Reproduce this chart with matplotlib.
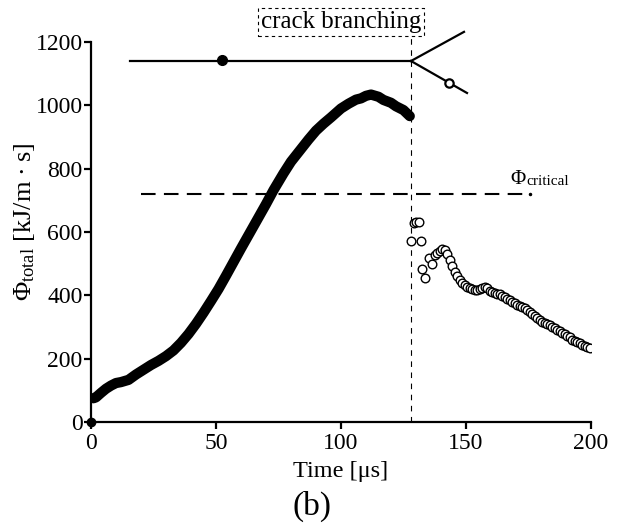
import matplotlib
matplotlib.use("Agg")
import matplotlib.pyplot as plt

plt.rcParams['font.family'] = ['Liberation Serif', 'DejaVu Serif']
plt.rcParams['mathtext.fontset'] = 'custom'
plt.rcParams['mathtext.rm'] = 'Liberation Serif'
plt.rcParams['mathtext.it'] = 'Liberation Serif:italic'

# filled symbols: before crack branching
t_before = [1, 2, 4, 6, 8, 10, 12, 15, 18, 21, 24, 27, 30, 33, 36, 39, 42, 45,
            48, 51, 54, 57, 60, 63, 66, 70, 73, 77, 80, 84, 87, 90, 93, 96,
            100, 103, 106, 108, 110, 112, 115, 117, 120, 122, 125, 127.5]
phi_before = [75, 78, 92, 105, 115, 123, 126, 133, 150, 165, 180, 193, 208,
              226, 250, 278, 310, 345, 382, 420, 462, 505, 548, 590, 632, 688,
              732, 785, 822, 862, 892, 920, 942, 962, 990, 1005, 1018, 1022,
              1030, 1034, 1027, 1017, 1008, 997, 985, 966]

# open symbols: after crack branching
t_after = [128, 129, 130, 131, 132, 132.5, 133.5, 135, 136.5, 137.5, 138.5,
           139.5, 140.5, 141.5, 142.5, 143.5, 144.5, 145.5, 146.5, 147.5, 148.5,
           149.5, 150.5, 151.5, 152.5, 153.5, 154.5, 155.5, 156.5, 157.5, 158.5,
           159.5, 160.5, 161.5, 162.5, 163.5, 164.5, 165.5, 166.5, 167.5, 168.5,
           169.5, 170.5, 171.5, 172.5, 173.5, 174.5, 175.5, 176.5, 177.5, 178.5,
           179.5, 180.5, 181.5, 182.5, 183.5, 184.5, 185.5, 186.5, 187.5, 188.5,
           189.5, 190.5, 191.5, 192.5, 193.5, 194.5, 195.5, 196.5, 197.5, 198.5,
           199.5]
phi_after = [572, 630, 633, 632, 572, 483, 455, 518, 500, 527, 535, 540, 545,
             542, 532, 512, 492, 475, 462, 450, 440, 432, 426, 423, 420, 418, 418,
             420, 424, 425, 422, 415, 410, 406, 405, 403, 398, 394, 390, 386, 380,
             375, 370, 366, 363, 360, 354, 347, 341, 335, 328, 322, 317, 312, 308,
             305, 300, 297, 292, 287, 282, 278, 272, 267, 260, 256, 252, 248, 244,
             240, 237, 233]

phi_critical = 720
t_branch = 128
x_ticks = [0, 50, 100, 150, 200]
y_ticks = [0, 200, 400, 600, 800, 1000, 1200]

fig = plt.figure(figsize=(6.19, 5.29), dpi=100)
ax = fig.add_axes([91 / 619, (529 - 422) / 529, 500 / 619, 380 / 529])
ax.set_xlim(0, 200)
ax.set_ylim(0, 1200)

# data
ax.plot([0], [0], 'o', color='black', ms=6, clip_on=False, zorder=5)
ax.plot(t_before, phi_before, '-', color='black', lw=7.4, solid_capstyle='round',
        solid_joinstyle='round', zorder=4)
ax.plot(t_after, phi_after, 'o', mfc='white', mec='black', mew=1.0, ms=6.2,
        zorder=4)

# critical level
ax.plot([20, 174], [phi_critical, phi_critical], color='black', lw=1.5,
        dashes=(7, 4))
ax.plot([175.5], [phi_critical], 'o', color='black', ms=1.5)
ax.text(167.5, 752, r'$\Phi$', fontsize=15, ha='left', va='baseline')
ax.text(174.0, 748, 'critical', fontsize=11, ha='left', va='baseline')

# branching time
ax.plot([t_branch, t_branch], [0, 1265], color='black', lw=0.8,
        dashes=(5, 5), clip_on=False)
ax.text(100, 1263, 'crack branching', fontsize=18, ha='center', va='center',
        bbox=dict(boxstyle='square,pad=0.12', fc='white', ec='black', lw=0.8,
                  ls=(0, (3, 3))))

# crack schematic
ax.plot([15.5, t_branch], [1140, 1140], color='black', lw=1.6, clip_on=False)
ax.plot([t_branch, 149.2], [1140, 1232], color='black', lw=1.6, clip_on=False)
ax.plot([t_branch, 150.4], [1140, 1039], color='black', lw=1.6, clip_on=False)
ax.plot([52.4], [1143], 'o', color='black', ms=7, clip_on=False)
ax.plot([143.2], [1072], 'o', mfc='white', mec='black', mew=1.6, ms=6,
        clip_on=False)

# axes styling
for side in ['top', 'right']:
    ax.spines[side].set_visible(False)
for side in ['left', 'bottom']:
    ax.spines[side].set_linewidth(1.6)
ax.set_xticks(x_ticks)
ax.set_yticks(y_ticks)
ax.tick_params(axis='both', direction='out', length=5, width=1.6,
               labelsize=17, pad=1)
ax.tick_params(axis='x', pad=3)

ax.set_xlabel('Time [μs]', fontsize=17.5, va='center')
ax.xaxis.set_label_coords((341 - 91) / 500, (422 - 472) / 380)
ax.set_ylabel(r'$\Phi_{\mathrm{total}}$ [kJ/m $\bullet$ s]', fontsize=19,
              va='center')
ax.yaxis.set_label_coords((25 - 91) / 500, (422 - 222) / 380)
fig.text(312 / 619, 1 - 506 / 529, '(b)', fontsize=24, ha='center',
         va='center')

fig.savefig('out.png', dpi=100)
